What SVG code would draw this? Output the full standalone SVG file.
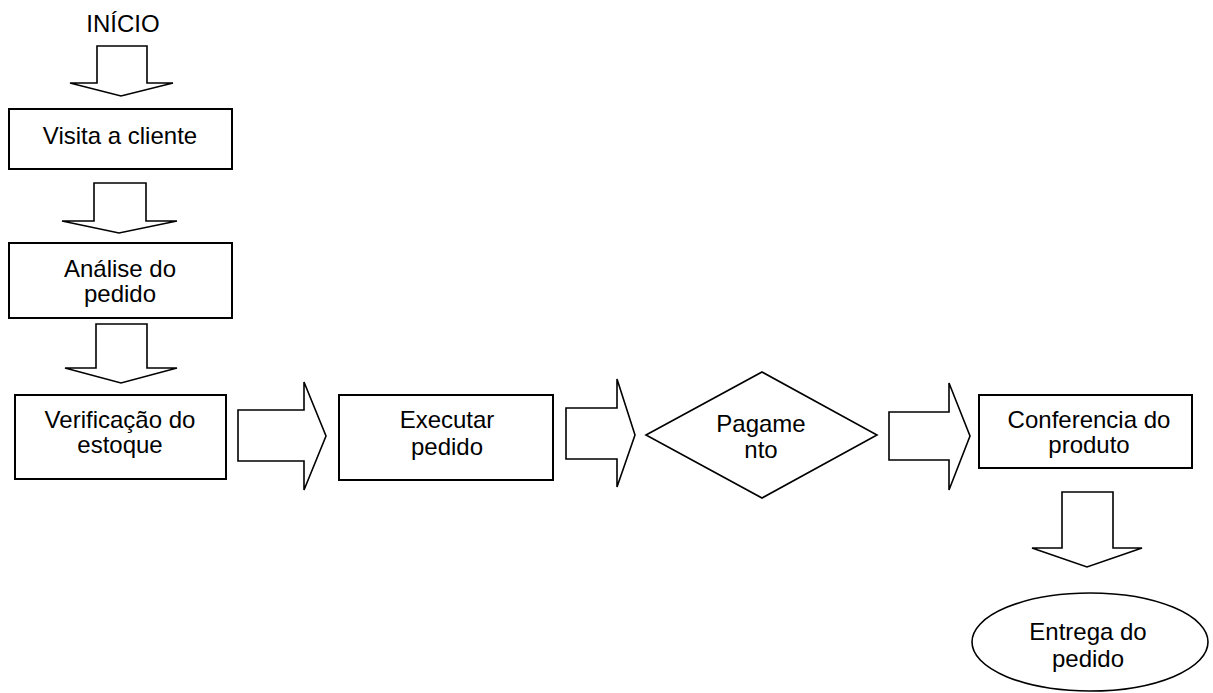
<svg xmlns="http://www.w3.org/2000/svg" width="1213" height="693" viewBox="0 0 1213 693">
<style>
.box{fill:#fff;stroke:#000;stroke-width:2}
.shape{fill:#fff;stroke:#000;stroke-width:1.6;stroke-linejoin:miter}
.arr{fill:#fff;stroke:#000;stroke-width:1.6;stroke-linejoin:miter}
text{font-family:"Liberation Sans",Arial,sans-serif;font-size:24px;fill:#000;text-anchor:middle}
</style>
<rect width="1213" height="693" fill="#fff"/>
<g id="connectors">
<polygon class="arr" points="97,46 147,46 147,83 173,83 121,96 70,83 97,83"/>
<polygon class="arr" points="94,183 146,183 146,221 177,221 119,233 62,221 94,221"/>
<polygon class="arr" points="96,324 147,324 147,368 177,368 121,383 65,368 96,368"/>
<polygon class="arr" points="238,410 304,410 304,382 326,436 304,490 304,461 238,461"/>
<polygon class="arr" points="566,408 617,408 617,379 635,435 617,487 617,459 566,459"/>
<polygon class="arr" points="889,412 949,412 949,383 970,436 949,490 949,460 889,460"/>
<polygon class="arr" points="1062,492 1113,492 1113,548 1142,548 1087,567 1032,548 1062,548"/>
</g>
<g id="inicio">
<text x="123" y="32">INÍCIO</text>
</g>
<g id="visita">
<rect class="box" x="9" y="109" width="223" height="60"/>
<text x="120" y="144">Visita a cliente</text>
</g>
<g id="analise">
<rect class="box" x="9" y="243" width="223" height="75"/>
<text x="120" y="277">Análise do</text>
<text x="120" y="302">pedido</text>
</g>
<g id="verificacao">
<rect class="box" x="15" y="395" width="211" height="84"/>
<text x="120" y="428">Verificação do</text>
<text x="120" y="453">estoque</text>
</g>
<g id="executar">
<rect class="box" x="339" y="395" width="214" height="85"/>
<text x="447" y="428">Executar</text>
<text x="447" y="455">pedido</text>
</g>
<g id="pagamento">
<polygon class="shape" points="646,435 762,372 877,435 762,498"/>
<text x="761" y="432">Pagame</text>
<text x="761" y="458">nto</text>
</g>
<g id="conferencia">
<rect class="box" x="979" y="395" width="213" height="73"/>
<text x="1089" y="428">Conferencia do</text>
<text x="1089" y="453">produto</text>
</g>
<g id="entrega">
<ellipse class="shape" cx="1090" cy="642" rx="118" ry="49"/>
<text x="1088" y="640">Entrega do</text>
<text x="1088" y="667">pedido</text>
</g>
</svg>
